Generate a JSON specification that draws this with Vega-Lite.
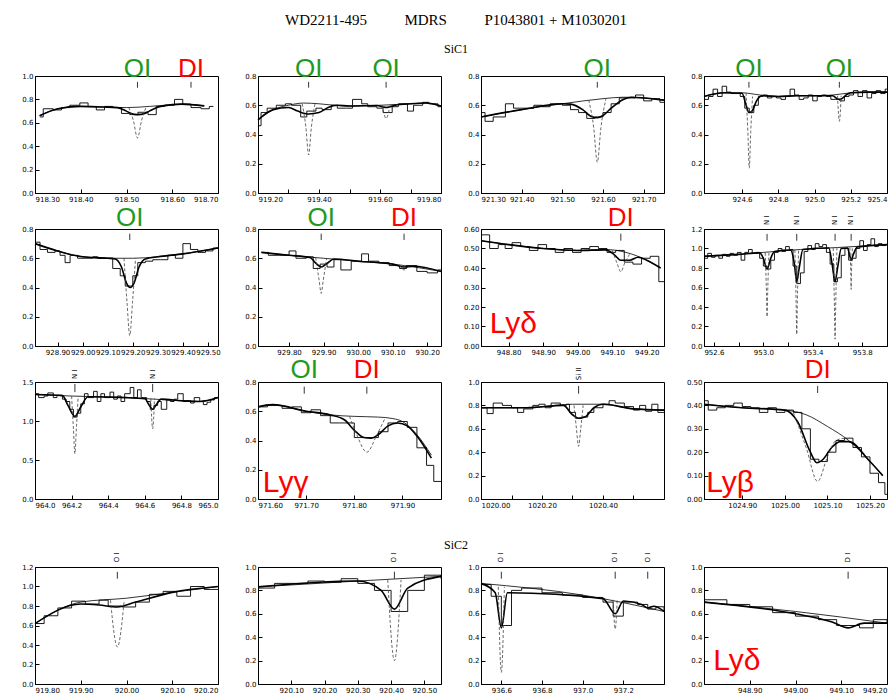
{
"$schema":"https://vega.github.io/schema/vega-lite/v6.json",
"padding":{"left":21,"top":13,"right":5,"bottom":0},
"title":{"text":"WD2211-495\u00a0\u00a0\u00a0\u00a0\u00a0\u00a0\u00a0\u00a0\u00a0\u00a0MDRS\u00a0\u00a0\u00a0\u00a0\u00a0\u00a0\u00a0\u00a0\u00a0\u00a0P1043801 + M1030201","font":"Liberation Serif","fontSize":15,"fontWeight":"normal","anchor":"middle","offset":15},
"config":{"view":{"stroke":"black","strokeWidth":1},"axis":{"grid":false,"domainColor":"black","tickColor":"black","labelColor":"black","labelFont":"DejaVu Sans","labelFontSize":7,"tickSize":-4,"labelPadding":6,"domain":true},"title":{"font":"Liberation Serif","fontWeight":"normal","fontSize":12}},
"datasets":{
"p1":[
{"s":"h","x":918.311,"y":0.65},{"s":"h","x":918.318,"y":0.72},{"s":"h","x":918.340,"y":0.71},{"s":"h","x":918.358,"y":0.73},{"s":"h","x":918.376,"y":0.75},{"s":"h","x":918.398,"y":0.77},{"s":"h","x":918.416,"y":0.74},{"s":"h","x":918.434,"y":0.71},{"s":"h","x":918.452,"y":0.74},{"s":"h","x":918.470,"y":0.73},{"s":"h","x":918.489,"y":0.68},{"s":"h","x":918.507,"y":0.67},{"s":"h","x":918.525,"y":0.69},{"s":"h","x":918.547,"y":0.67},{"s":"h","x":918.565,"y":0.74},{"s":"h","x":918.583,"y":0.75},{"s":"h","x":918.605,"y":0.80},{"s":"h","x":918.623,"y":0.76},{"s":"h","x":918.641,"y":0.73},{"s":"h","x":918.663,"y":0.72},{"s":"h","x":918.681,"y":0.74},{"s":"h","x":918.690,"y":0.74},
{"s":"c","x":918.31,"y":0.66},{"s":"c","x":918.35,"y":0.72},{"s":"c","x":918.40,"y":0.74},{"s":"c","x":918.45,"y":0.735},{"s":"c","x":918.50,"y":0.73},{"s":"c","x":918.55,"y":0.74},{"s":"c","x":918.60,"y":0.755},{"s":"c","x":918.62,"y":0.76},{"s":"c","x":918.67,"y":0.745},
{"s":"m","x":918.31,"y":0.66},{"s":"m","x":918.35,"y":0.72},{"s":"m","x":918.40,"y":0.74},{"s":"m","x":918.45,"y":0.735},{"s":"m","x":918.48,"y":0.73},{"s":"m","x":918.50,"y":0.70},{"s":"m","x":918.51,"y":0.68},{"s":"m","x":918.524,"y":0.67},{"s":"m","x":918.54,"y":0.68},{"s":"m","x":918.55,"y":0.70},{"s":"m","x":918.57,"y":0.735},{"s":"m","x":918.60,"y":0.755},{"s":"m","x":918.62,"y":0.76},{"s":"m","x":918.67,"y":0.745},
{"s":"i","g":1,"x":918.505,"y":0.73},{"s":"i","g":1,"x":918.515,"y":0.62},{"s":"i","g":1,"x":918.524,"y":0.47},{"s":"i","g":1,"x":918.533,"y":0.62},{"s":"i","g":1,"x":918.543,"y":0.735},
{"s":"t","x":918.524,"y":0.95,"y2":0.90},{"s":"t","x":918.641,"y":0.95,"y2":0.90},
{"s":"l","t":"OI","x":918.524,"y":1.06},{"s":"l","t":"DI","x":918.641,"y":1.06}
],
"p2":[
{"s":"h","x":919.200,"y":0.46},{"s":"h","x":919.210,"y":0.55},{"s":"h","x":919.230,"y":0.58},{"s":"h","x":919.260,"y":0.60},{"s":"h","x":919.290,"y":0.61},{"s":"h","x":919.310,"y":0.60},{"s":"h","x":919.340,"y":0.52},{"s":"h","x":919.360,"y":0.56},{"s":"h","x":919.390,"y":0.58},{"s":"h","x":919.410,"y":0.57},{"s":"h","x":919.440,"y":0.60},{"s":"h","x":919.460,"y":0.58},{"s":"h","x":919.490,"y":0.58},{"s":"h","x":919.510,"y":0.64},{"s":"h","x":919.540,"y":0.61},{"s":"h","x":919.560,"y":0.59},{"s":"h","x":919.590,"y":0.58},{"s":"h","x":919.610,"y":0.55},{"s":"h","x":919.640,"y":0.59},{"s":"h","x":919.660,"y":0.61},{"s":"h","x":919.690,"y":0.56},{"s":"h","x":919.710,"y":0.60},{"s":"h","x":919.740,"y":0.62},{"s":"h","x":919.760,"y":0.61},{"s":"h","x":919.790,"y":0.59},{"s":"h","x":919.800,"y":0.59},
{"s":"c","x":919.20,"y":0.50},{"s":"c","x":919.25,"y":0.57},{"s":"c","x":919.30,"y":0.60},{"s":"c","x":919.35,"y":0.615},{"s":"c","x":919.40,"y":0.61},{"s":"c","x":919.45,"y":0.60},{"s":"c","x":919.50,"y":0.595},{"s":"c","x":919.60,"y":0.60},{"s":"c","x":919.70,"y":0.61},{"s":"c","x":919.75,"y":0.615},{"s":"c","x":919.80,"y":0.595},
{"s":"m","x":919.20,"y":0.50},{"s":"m","x":919.25,"y":0.57},{"s":"m","x":919.30,"y":0.585},{"s":"m","x":919.33,"y":0.56},{"s":"m","x":919.366,"y":0.54},{"s":"m","x":919.40,"y":0.55},{"s":"m","x":919.43,"y":0.585},{"s":"m","x":919.46,"y":0.60},{"s":"m","x":919.50,"y":0.595},{"s":"m","x":919.59,"y":0.598},{"s":"m","x":919.61,"y":0.588},{"s":"m","x":919.62,"y":0.585},{"s":"m","x":919.63,"y":0.588},{"s":"m","x":919.65,"y":0.60},{"s":"m","x":919.70,"y":0.61},{"s":"m","x":919.75,"y":0.615},{"s":"m","x":919.80,"y":0.595},
{"s":"i","g":1,"x":919.345,"y":0.61},{"s":"i","g":1,"x":919.357,"y":0.45},{"s":"i","g":1,"x":919.366,"y":0.26},{"s":"i","g":1,"x":919.375,"y":0.45},{"s":"i","g":1,"x":919.387,"y":0.61},
{"s":"i","g":2,"x":919.607,"y":0.60},{"s":"i","g":2,"x":919.62,"y":0.51},{"s":"i","g":2,"x":919.633,"y":0.60},
{"s":"t","x":919.366,"y":0.76,"y2":0.72},{"s":"t","x":919.62,"y":0.76,"y2":0.72},
{"s":"l","t":"OI","x":919.366,"y":0.848},{"s":"l","t":"OI","x":919.62,"y":0.848}
],
"p3":[
{"s":"h","x":921.300,"y":0.55},{"s":"h","x":921.310,"y":0.49},{"s":"h","x":921.330,"y":0.52},{"s":"h","x":921.360,"y":0.61},{"s":"h","x":921.380,"y":0.58},{"s":"h","x":921.400,"y":0.58},{"s":"h","x":921.430,"y":0.60},{"s":"h","x":921.450,"y":0.59},{"s":"h","x":921.470,"y":0.61},{"s":"h","x":921.500,"y":0.60},{"s":"h","x":921.520,"y":0.57},{"s":"h","x":921.540,"y":0.55},{"s":"h","x":921.560,"y":0.51},{"s":"h","x":921.580,"y":0.52},{"s":"h","x":921.600,"y":0.55},{"s":"h","x":921.620,"y":0.61},{"s":"h","x":921.640,"y":0.65},{"s":"h","x":921.660,"y":0.65},{"s":"h","x":921.680,"y":0.67},{"s":"h","x":921.700,"y":0.63},{"s":"h","x":921.720,"y":0.645},{"s":"h","x":921.740,"y":0.62},{"s":"h","x":921.750,"y":0.62},
{"s":"c","x":921.30,"y":0.52},{"s":"c","x":921.40,"y":0.57},{"s":"c","x":921.50,"y":0.61},{"s":"c","x":921.60,"y":0.645},{"s":"c","x":921.65,"y":0.655},{"s":"c","x":921.70,"y":0.65},{"s":"c","x":921.75,"y":0.635},
{"s":"m","x":921.30,"y":0.52},{"s":"m","x":921.40,"y":0.57},{"s":"m","x":921.50,"y":0.61},{"s":"m","x":921.52,"y":0.608},{"s":"m","x":921.55,"y":0.57},{"s":"m","x":921.57,"y":0.525},{"s":"m","x":921.586,"y":0.515},{"s":"m","x":921.60,"y":0.53},{"s":"m","x":921.62,"y":0.58},{"s":"m","x":921.65,"y":0.64},{"s":"m","x":921.67,"y":0.655},{"s":"m","x":921.70,"y":0.65},{"s":"m","x":921.75,"y":0.635},
{"s":"i","g":1,"x":921.565,"y":0.635},{"s":"i","g":1,"x":921.577,"y":0.45},{"s":"i","g":1,"x":921.586,"y":0.21},{"s":"i","g":1,"x":921.595,"y":0.45},{"s":"i","g":1,"x":921.607,"y":0.642},
{"s":"t","x":921.586,"y":0.76,"y2":0.72},
{"s":"l","t":"OI","x":921.586,"y":0.848}
],
"p4":[
{"s":"h","x":924.39,"y":0.64},{"s":"h","x":924.415,"y":0.66},{"s":"h","x":924.44,"y":0.71},{"s":"h","x":924.465,"y":0.66},{"s":"h","x":924.49,"y":0.73},{"s":"h","x":924.515,"y":0.69},{"s":"h","x":924.54,"y":0.68},{"s":"h","x":924.565,"y":0.68},{"s":"h","x":924.59,"y":0.66},{"s":"h","x":924.615,"y":0.58},{"s":"h","x":924.64,"y":0.55},{"s":"h","x":924.665,"y":0.60},{"s":"h","x":924.69,"y":0.66},{"s":"h","x":924.715,"y":0.67},{"s":"h","x":924.74,"y":0.65},{"s":"h","x":924.765,"y":0.66},{"s":"h","x":924.79,"y":0.65},{"s":"h","x":924.815,"y":0.64},{"s":"h","x":924.84,"y":0.66},{"s":"h","x":924.865,"y":0.71},{"s":"h","x":924.89,"y":0.67},{"s":"h","x":924.915,"y":0.64},{"s":"h","x":924.94,"y":0.65},{"s":"h","x":924.965,"y":0.67},{"s":"h","x":924.99,"y":0.63},{"s":"h","x":925.015,"y":0.66},{"s":"h","x":925.04,"y":0.67},{"s":"h","x":925.065,"y":0.66},{"s":"h","x":925.09,"y":0.64},{"s":"h","x":925.115,"y":0.64},{"s":"h","x":925.14,"y":0.63},{"s":"h","x":925.165,"y":0.66},{"s":"h","x":925.19,"y":0.67},{"s":"h","x":925.215,"y":0.70},{"s":"h","x":925.24,"y":0.66},{"s":"h","x":925.265,"y":0.70},{"s":"h","x":925.29,"y":0.65},{"s":"h","x":925.315,"y":0.68},{"s":"h","x":925.34,"y":0.70},{"s":"h","x":925.365,"y":0.68},{"s":"h","x":925.39,"y":0.71},{"s":"h","x":925.40,"y":0.71},
{"s":"c","x":924.39,"y":0.66},{"s":"c","x":924.50,"y":0.685},{"s":"c","x":924.60,"y":0.685},{"s":"c","x":924.70,"y":0.67},{"s":"c","x":924.80,"y":0.66},{"s":"c","x":924.90,"y":0.665},{"s":"c","x":925.00,"y":0.665},{"s":"c","x":925.10,"y":0.67},{"s":"c","x":925.20,"y":0.685},{"s":"c","x":925.30,"y":0.69},{"s":"c","x":925.40,"y":0.69},
{"s":"m","x":924.39,"y":0.66},{"s":"m","x":924.50,"y":0.685},{"s":"m","x":924.60,"y":0.682},{"s":"m","x":924.62,"y":0.61},{"s":"m","x":924.638,"y":0.55},{"s":"m","x":924.655,"y":0.56},{"s":"m","x":924.68,"y":0.63},{"s":"m","x":924.71,"y":0.665},{"s":"m","x":924.80,"y":0.66},{"s":"m","x":924.90,"y":0.665},{"s":"m","x":925.00,"y":0.665},{"s":"m","x":925.10,"y":0.665},{"s":"m","x":925.125,"y":0.645},{"s":"m","x":925.137,"y":0.64},{"s":"m","x":925.15,"y":0.645},{"s":"m","x":925.18,"y":0.675},{"s":"m","x":925.20,"y":0.685},{"s":"m","x":925.30,"y":0.69},{"s":"m","x":925.40,"y":0.69},
{"s":"i","g":1,"x":924.622,"y":0.685},{"s":"i","g":1,"x":924.632,"y":0.42},{"s":"i","g":1,"x":924.64,"y":0.17},{"s":"i","g":1,"x":924.648,"y":0.42},{"s":"i","g":1,"x":924.658,"y":0.66},
{"s":"i","g":2,"x":925.127,"y":0.665},{"s":"i","g":2,"x":925.137,"y":0.49},{"s":"i","g":2,"x":925.147,"y":0.665},
{"s":"t","x":924.638,"y":0.76,"y2":0.72},{"s":"t","x":925.137,"y":0.76,"y2":0.72},
{"s":"l","t":"OI","x":924.638,"y":0.848},{"s":"l","t":"OI","x":925.137,"y":0.848}
],
"p5":[
{"s":"h","x":928.81,"y":0.71},{"s":"h","x":928.83,"y":0.66},{"s":"h","x":928.86,"y":0.64},{"s":"h","x":928.89,"y":0.65},{"s":"h","x":928.91,"y":0.62},{"s":"h","x":928.93,"y":0.57},{"s":"h","x":928.95,"y":0.62},{"s":"h","x":928.98,"y":0.60},{"s":"h","x":929.01,"y":0.60},{"s":"h","x":929.04,"y":0.61},{"s":"h","x":929.06,"y":0.60},{"s":"h","x":929.09,"y":0.60},{"s":"h","x":929.12,"y":0.53},{"s":"h","x":929.15,"y":0.48},{"s":"h","x":929.17,"y":0.41},{"s":"h","x":929.20,"y":0.48},{"s":"h","x":929.22,"y":0.57},{"s":"h","x":929.25,"y":0.58},{"s":"h","x":929.28,"y":0.59},{"s":"h","x":929.31,"y":0.59},{"s":"h","x":929.34,"y":0.62},{"s":"h","x":929.37,"y":0.60},{"s":"h","x":929.40,"y":0.70},{"s":"h","x":929.43,"y":0.66},{"s":"h","x":929.46,"y":0.64},{"s":"h","x":929.49,"y":0.65},{"s":"h","x":929.52,"y":0.67},{"s":"h","x":929.54,"y":0.67},
{"s":"c","x":928.81,"y":0.70},{"s":"c","x":928.90,"y":0.65},{"s":"c","x":929.00,"y":0.61},{"s":"c","x":929.10,"y":0.60},{"s":"c","x":929.20,"y":0.60},{"s":"c","x":929.30,"y":0.61},{"s":"c","x":929.40,"y":0.63},{"s":"c","x":929.54,"y":0.67},
{"s":"m","x":928.81,"y":0.70},{"s":"m","x":928.90,"y":0.65},{"s":"m","x":929.00,"y":0.61},{"s":"m","x":929.10,"y":0.60},{"s":"m","x":929.13,"y":0.595},{"s":"m","x":929.155,"y":0.54},{"s":"m","x":929.175,"y":0.43},{"s":"m","x":929.19,"y":0.40},{"s":"m","x":929.205,"y":0.43},{"s":"m","x":929.225,"y":0.54},{"s":"m","x":929.25,"y":0.595},{"s":"m","x":929.30,"y":0.61},{"s":"m","x":929.40,"y":0.63},{"s":"m","x":929.54,"y":0.67},
{"s":"i","g":1,"x":929.165,"y":0.60},{"s":"i","g":1,"x":929.177,"y":0.30},{"s":"i","g":1,"x":929.188,"y":0.07},{"s":"i","g":1,"x":929.199,"y":0.30},{"s":"i","g":1,"x":929.211,"y":0.60},
{"s":"t","x":929.188,"y":0.768,"y2":0.725},
{"s":"l","t":"OI","x":929.188,"y":0.875}
],
"p6":[
{"s":"h","x":929.72,"y":0.64},{"s":"h","x":929.74,"y":0.62},{"s":"h","x":929.77,"y":0.62},{"s":"h","x":929.80,"y":0.65},{"s":"h","x":929.82,"y":0.60},{"s":"h","x":929.85,"y":0.61},{"s":"h","x":929.87,"y":0.53},{"s":"h","x":929.89,"y":0.56},{"s":"h","x":929.91,"y":0.54},{"s":"h","x":929.93,"y":0.59},{"s":"h","x":929.95,"y":0.52},{"s":"h","x":929.98,"y":0.58},{"s":"h","x":930.01,"y":0.63},{"s":"h","x":930.03,"y":0.58},{"s":"h","x":930.06,"y":0.57},{"s":"h","x":930.09,"y":0.55},{"s":"h","x":930.12,"y":0.53},{"s":"h","x":930.14,"y":0.55},{"s":"h","x":930.17,"y":0.51},{"s":"h","x":930.20,"y":0.50},{"s":"h","x":930.23,"y":0.52},{"s":"h","x":930.24,"y":0.52},
{"s":"c","x":929.72,"y":0.64},{"s":"c","x":929.80,"y":0.62},{"s":"c","x":929.90,"y":0.60},{"s":"c","x":930.00,"y":0.58},{"s":"c","x":930.10,"y":0.56},{"s":"c","x":930.24,"y":0.51},
{"s":"m","x":929.72,"y":0.64},{"s":"m","x":929.80,"y":0.62},{"s":"m","x":929.86,"y":0.605},{"s":"m","x":929.878,"y":0.565},{"s":"m","x":929.893,"y":0.54},{"s":"m","x":929.91,"y":0.565},{"s":"m","x":929.93,"y":0.595},{"s":"m","x":930.00,"y":0.58},{"s":"m","x":930.10,"y":0.56},{"s":"m","x":930.133,"y":0.54},{"s":"m","x":930.16,"y":0.545},{"s":"m","x":930.24,"y":0.51},
{"s":"i","g":1,"x":929.877,"y":0.605},{"s":"i","g":1,"x":929.887,"y":0.45},{"s":"i","g":1,"x":929.893,"y":0.36},{"s":"i","g":1,"x":929.899,"y":0.45},{"s":"i","g":1,"x":929.909,"y":0.60},
{"s":"i","g":2,"x":930.12,"y":0.555},{"s":"i","g":2,"x":930.133,"y":0.52},{"s":"i","g":2,"x":930.146,"y":0.545},
{"s":"t","x":929.893,"y":0.768,"y2":0.725},{"s":"t","x":930.133,"y":0.768,"y2":0.725},
{"s":"l","t":"OI","x":929.893,"y":0.875},{"s":"l","t":"DI","x":930.133,"y":0.875}
],
"p7":[
{"s":"h","x":948.72,"y":0.57},{"s":"h","x":948.745,"y":0.50},{"s":"h","x":948.77,"y":0.52},{"s":"h","x":948.79,"y":0.50},{"s":"h","x":948.81,"y":0.53},{"s":"h","x":948.835,"y":0.51},{"s":"h","x":948.86,"y":0.49},{"s":"h","x":948.885,"y":0.52},{"s":"h","x":948.91,"y":0.50},{"s":"h","x":948.935,"y":0.48},{"s":"h","x":948.96,"y":0.50},{"s":"h","x":948.985,"y":0.48},{"s":"h","x":949.01,"y":0.50},{"s":"h","x":949.035,"y":0.51},{"s":"h","x":949.06,"y":0.50},{"s":"h","x":949.085,"y":0.48},{"s":"h","x":949.11,"y":0.49},{"s":"h","x":949.135,"y":0.43},{"s":"h","x":949.16,"y":0.42},{"s":"h","x":949.185,"y":0.45},{"s":"h","x":949.21,"y":0.46},{"s":"h","x":949.235,"y":0.33},{"s":"h","x":949.25,"y":0.33},
{"s":"c","x":948.72,"y":0.54},{"s":"c","x":948.80,"y":0.52},{"s":"c","x":948.90,"y":0.50},{"s":"c","x":949.00,"y":0.49},{"s":"c","x":949.08,"y":0.495},{"s":"c","x":949.14,"y":0.48},{"s":"c","x":949.20,"y":0.44},{"s":"c","x":949.24,"y":0.40},
{"s":"m","x":948.72,"y":0.54},{"s":"m","x":948.80,"y":0.52},{"s":"m","x":948.90,"y":0.50},{"s":"m","x":949.00,"y":0.49},{"s":"m","x":949.08,"y":0.493},{"s":"m","x":949.105,"y":0.47},{"s":"m","x":949.125,"y":0.44},{"s":"m","x":949.15,"y":0.44},{"s":"m","x":949.175,"y":0.455},{"s":"m","x":949.20,"y":0.44},{"s":"m","x":949.24,"y":0.40},
{"s":"i","g":1,"x":949.10,"y":0.49},{"s":"i","g":1,"x":949.115,"y":0.42},{"s":"i","g":1,"x":949.125,"y":0.38},{"s":"i","g":1,"x":949.135,"y":0.42},{"s":"i","g":1,"x":949.15,"y":0.47},
{"s":"t","x":949.125,"y":0.576,"y2":0.54},
{"s":"l","t":"DI","x":949.125,"y":0.656},
{"s":"ly","t":"Lyδ","x":948.745,"y":0.065}
],
"p8":[
{"s":"h","x":952.52,"y":0.90},{"s":"h","x":952.55,"y":0.95},{"s":"h","x":952.58,"y":0.91},{"s":"h","x":952.61,"y":0.93},{"s":"h","x":952.64,"y":0.90},{"s":"h","x":952.67,"y":0.94},{"s":"h","x":952.70,"y":0.92},{"s":"h","x":952.73,"y":0.95},{"s":"h","x":952.76,"y":0.93},{"s":"h","x":952.79,"y":0.96},{"s":"h","x":952.82,"y":0.88},{"s":"h","x":952.85,"y":0.96},{"s":"h","x":952.88,"y":0.99},{"s":"h","x":952.91,"y":0.95},{"s":"h","x":952.94,"y":0.96},{"s":"h","x":952.97,"y":0.90},{"s":"h","x":953.00,"y":0.82},{"s":"h","x":953.03,"y":0.79},{"s":"h","x":953.06,"y":0.88},{"s":"h","x":953.09,"y":0.96},{"s":"h","x":953.12,"y":1.00},{"s":"h","x":953.15,"y":0.97},{"s":"h","x":953.18,"y":1.02},{"s":"h","x":953.21,"y":0.99},{"s":"h","x":953.24,"y":0.82},{"s":"h","x":953.27,"y":0.64},{"s":"h","x":953.30,"y":0.75},{"s":"h","x":953.33,"y":0.97},{"s":"h","x":953.36,"y":1.03},{"s":"h","x":953.39,"y":0.99},{"s":"h","x":953.42,"y":1.05},{"s":"h","x":953.45,"y":1.02},{"s":"h","x":953.48,"y":1.04},{"s":"h","x":953.51,"y":0.96},{"s":"h","x":953.54,"y":0.84},{"s":"h","x":953.57,"y":0.66},{"s":"h","x":953.60,"y":0.70},{"s":"h","x":953.63,"y":0.93},{"s":"h","x":953.66,"y":1.00},{"s":"h","x":953.69,"y":0.88},{"s":"h","x":953.72,"y":0.90},{"s":"h","x":953.75,"y":1.00},{"s":"h","x":953.78,"y":1.08},{"s":"h","x":953.81,"y":0.98},{"s":"h","x":953.84,"y":1.04},{"s":"h","x":953.87,"y":1.10},{"s":"h","x":953.90,"y":1.02},{"s":"h","x":953.93,"y":1.05},{"s":"h","x":953.96,"y":1.03},{"s":"h","x":953.99,"y":1.04},{"s":"h","x":954.0,"y":1.04},
{"s":"c","x":952.52,"y":0.92},{"s":"c","x":952.8,"y":0.94},{"s":"c","x":953.0,"y":0.96},{"s":"c","x":953.3,"y":0.99},{"s":"c","x":953.6,"y":1.01},{"s":"c","x":954.0,"y":1.04},
{"s":"m","x":952.52,"y":0.92},{"s":"m","x":952.8,"y":0.94},{"s":"m","x":952.97,"y":0.955},{"s":"m","x":953.00,"y":0.90},{"s":"m","x":953.03,"y":0.79},{"s":"m","x":953.06,"y":0.90},{"s":"m","x":953.09,"y":0.97},{"s":"m","x":953.22,"y":0.985},{"s":"m","x":953.25,"y":0.85},{"s":"m","x":953.27,"y":0.66},{"s":"m","x":953.29,"y":0.80},{"s":"m","x":953.32,"y":0.99},{"s":"m","x":953.53,"y":1.005},{"s":"m","x":953.555,"y":0.85},{"s":"m","x":953.58,"y":0.66},{"s":"m","x":953.60,"y":0.80},{"s":"m","x":953.63,"y":1.0},{"s":"m","x":953.68,"y":1.005},{"s":"m","x":953.70,"y":0.92},{"s":"m","x":953.71,"y":0.88},{"s":"m","x":953.725,"y":0.93},{"s":"m","x":953.76,"y":1.015},{"s":"m","x":954.0,"y":1.04},
{"s":"i","g":1,"x":953.015,"y":0.955},{"s":"i","g":1,"x":953.025,"y":0.55},{"s":"i","g":1,"x":953.03,"y":0.30},{"s":"i","g":1,"x":953.035,"y":0.55},{"s":"i","g":1,"x":953.045,"y":0.955},
{"s":"i","g":2,"x":953.255,"y":0.985},{"s":"i","g":2,"x":953.265,"y":0.45},{"s":"i","g":2,"x":953.27,"y":0.12},{"s":"i","g":2,"x":953.275,"y":0.45},{"s":"i","g":2,"x":953.285,"y":0.99},
{"s":"i","g":3,"x":953.565,"y":1.005},{"s":"i","g":3,"x":953.575,"y":0.40},{"s":"i","g":3,"x":953.58,"y":0.07},{"s":"i","g":3,"x":953.585,"y":0.40},{"s":"i","g":3,"x":953.595,"y":1.005},
{"s":"i","g":4,"x":953.70,"y":1.01},{"s":"i","g":4,"x":953.707,"y":0.75},{"s":"i","g":4,"x":953.71,"y":0.58},{"s":"i","g":4,"x":953.713,"y":0.75},{"s":"i","g":4,"x":953.72,"y":1.01},
{"s":"t","x":953.03,"y":1.15,"y2":1.08},{"s":"t","x":953.27,"y":1.15,"y2":1.08},{"s":"t","x":953.58,"y":1.15,"y2":1.08},{"s":"t","x":953.71,"y":1.15,"y2":1.08},
{"s":"r","t":"N I","x":953.03,"y":1.29},{"s":"r","t":"N I","x":953.27,"y":1.29},{"s":"r","t":"N I","x":953.58,"y":1.29},{"s":"r","t":"N I","x":953.71,"y":1.29}
],
"p9":[
{"s":"h","x":964.00,"y":1.35},{"s":"h","x":964.02,"y":1.30},{"s":"h","x":964.05,"y":1.32},{"s":"h","x":964.07,"y":1.36},{"s":"h","x":964.10,"y":1.30},{"s":"h","x":964.12,"y":1.33},{"s":"h","x":964.15,"y":1.28},{"s":"h","x":964.17,"y":1.25},{"s":"h","x":964.19,"y":1.15},{"s":"h","x":964.21,"y":1.05},{"s":"h","x":964.23,"y":1.10},{"s":"h","x":964.25,"y":1.22},{"s":"h","x":964.27,"y":1.35},{"s":"h","x":964.29,"y":1.30},{"s":"h","x":964.32,"y":1.38},{"s":"h","x":964.34,"y":1.25},{"s":"h","x":964.36,"y":1.35},{"s":"h","x":964.38,"y":1.30},{"s":"h","x":964.41,"y":1.37},{"s":"h","x":964.43,"y":1.28},{"s":"h","x":964.45,"y":1.32},{"s":"h","x":964.47,"y":1.25},{"s":"h","x":964.49,"y":1.35},{"s":"h","x":964.52,"y":1.43},{"s":"h","x":964.54,"y":1.30},{"s":"h","x":964.56,"y":1.40},{"s":"h","x":964.58,"y":1.30},{"s":"h","x":964.61,"y":1.25},{"s":"h","x":964.63,"y":1.15},{"s":"h","x":964.65,"y":1.20},{"s":"h","x":964.67,"y":1.25},{"s":"h","x":964.69,"y":1.15},{"s":"h","x":964.72,"y":1.27},{"s":"h","x":964.74,"y":1.25},{"s":"h","x":964.76,"y":1.28},{"s":"h","x":964.78,"y":1.35},{"s":"h","x":964.81,"y":1.25},{"s":"h","x":964.83,"y":1.26},{"s":"h","x":964.85,"y":1.23},{"s":"h","x":964.87,"y":1.30},{"s":"h","x":964.90,"y":1.25},{"s":"h","x":964.92,"y":1.21},{"s":"h","x":964.94,"y":1.24},{"s":"h","x":964.96,"y":1.27},{"s":"h","x":964.98,"y":1.30},{"s":"h","x":965.00,"y":1.30},
{"s":"c","x":964.0,"y":1.34},{"s":"c","x":964.2,"y":1.32},{"s":"c","x":964.5,"y":1.30},{"s":"c","x":964.8,"y":1.26},{"s":"c","x":964.9,"y":1.25},{"s":"c","x":965.0,"y":1.30},
{"s":"m","x":964.0,"y":1.34},{"s":"m","x":964.15,"y":1.325},{"s":"m","x":964.18,"y":1.20},{"s":"m","x":964.218,"y":1.06},{"s":"m","x":964.25,"y":1.18},{"s":"m","x":964.29,"y":1.31},{"s":"m","x":964.5,"y":1.30},{"s":"m","x":964.60,"y":1.285},{"s":"m","x":964.625,"y":1.20},{"s":"m","x":964.643,"y":1.15},{"s":"m","x":964.66,"y":1.20},{"s":"m","x":964.69,"y":1.28},{"s":"m","x":964.8,"y":1.26},{"s":"m","x":964.9,"y":1.25},{"s":"m","x":965.0,"y":1.30},
{"s":"i","g":1,"x":964.20,"y":1.32},{"s":"i","g":1,"x":964.21,"y":0.90},{"s":"i","g":1,"x":964.218,"y":0.58},{"s":"i","g":1,"x":964.226,"y":0.90},{"s":"i","g":1,"x":964.236,"y":1.32},
{"s":"i","g":2,"x":964.633,"y":1.29},{"s":"i","g":2,"x":964.643,"y":0.90},{"s":"i","g":2,"x":964.653,"y":1.29},
{"s":"t","x":964.218,"y":1.475,"y2":1.37},{"s":"t","x":964.643,"y":1.475,"y2":1.37},
{"s":"r","t":"N I","x":964.218,"y":1.60},{"s":"r","t":"N I","x":964.643,"y":1.60}
],
"p10":[
{"s":"h","x":971.60,"y":0.63},{"s":"h","x":971.62,"y":0.64},{"s":"h","x":971.65,"y":0.62},{"s":"h","x":971.67,"y":0.63},{"s":"h","x":971.69,"y":0.59},{"s":"h","x":971.71,"y":0.61},{"s":"h","x":971.73,"y":0.57},{"s":"h","x":971.75,"y":0.52},{"s":"h","x":971.77,"y":0.52},{"s":"h","x":971.80,"y":0.42},{"s":"h","x":971.82,"y":0.42},{"s":"h","x":971.85,"y":0.46},{"s":"h","x":971.87,"y":0.52},{"s":"h","x":971.89,"y":0.53},{"s":"h","x":971.91,"y":0.49},{"s":"h","x":971.93,"y":0.35},{"s":"h","x":971.95,"y":0.23},{"s":"h","x":971.965,"y":0.12},{"s":"h","x":971.98,"y":0.12},
{"s":"c","x":971.60,"y":0.63},{"s":"c","x":971.63,"y":0.645},{"s":"c","x":971.70,"y":0.60},{"s":"c","x":971.75,"y":0.575},{"s":"c","x":971.80,"y":0.565},{"s":"c","x":971.85,"y":0.56},{"s":"c","x":971.88,"y":0.55},{"s":"c","x":971.90,"y":0.53},{"s":"c","x":971.93,"y":0.44},{"s":"c","x":971.96,"y":0.30},
{"s":"m","x":971.60,"y":0.63},{"s":"m","x":971.63,"y":0.645},{"s":"m","x":971.70,"y":0.60},{"s":"m","x":971.75,"y":0.575},{"s":"m","x":971.78,"y":0.54},{"s":"m","x":971.80,"y":0.47},{"s":"m","x":971.82,"y":0.42},{"s":"m","x":971.835,"y":0.415},{"s":"m","x":971.85,"y":0.44},{"s":"m","x":971.87,"y":0.50},{"s":"m","x":971.89,"y":0.52},{"s":"m","x":971.91,"y":0.50},{"s":"m","x":971.93,"y":0.43},{"s":"m","x":971.96,"y":0.28},
{"s":"i","g":1,"x":971.79,"y":0.565},{"s":"i","g":1,"x":971.805,"y":0.44},{"s":"i","g":1,"x":971.826,"y":0.32},{"s":"i","g":1,"x":971.847,"y":0.44},{"s":"i","g":1,"x":971.865,"y":0.56},
{"s":"t","x":971.696,"y":0.768,"y2":0.72},{"s":"t","x":971.826,"y":0.768,"y2":0.72},
{"s":"l","t":"OI","x":971.696,"y":0.88},{"s":"l","t":"DI","x":971.826,"y":0.88},
{"s":"ly","t":"Lyγ","x":971.61,"y":0.05}
],
"p11":[
{"s":"h","x":1020.00,"y":0.78},{"s":"h","x":1020.02,"y":0.73},{"s":"h","x":1020.04,"y":0.82},{"s":"h","x":1020.07,"y":0.80},{"s":"h","x":1020.10,"y":0.78},{"s":"h","x":1020.12,"y":0.74},{"s":"h","x":1020.14,"y":0.77},{"s":"h","x":1020.17,"y":0.80},{"s":"h","x":1020.19,"y":0.81},{"s":"h","x":1020.21,"y":0.78},{"s":"h","x":1020.23,"y":0.82},{"s":"h","x":1020.26,"y":0.80},{"s":"h","x":1020.28,"y":0.81},{"s":"h","x":1020.29,"y":0.74},{"s":"h","x":1020.31,"y":0.69},{"s":"h","x":1020.33,"y":0.70},{"s":"h","x":1020.35,"y":0.74},{"s":"h","x":1020.37,"y":0.78},{"s":"h","x":1020.40,"y":0.81},{"s":"h","x":1020.42,"y":0.84},{"s":"h","x":1020.44,"y":0.82},{"s":"h","x":1020.47,"y":0.79},{"s":"h","x":1020.50,"y":0.76},{"s":"h","x":1020.52,"y":0.80},{"s":"h","x":1020.54,"y":0.75},{"s":"h","x":1020.56,"y":0.81},{"s":"h","x":1020.58,"y":0.74},{"s":"h","x":1020.60,"y":0.74},
{"s":"c","x":1020.00,"y":0.78},{"s":"c","x":1020.15,"y":0.78},{"s":"c","x":1020.30,"y":0.81},{"s":"c","x":1020.40,"y":0.81},{"s":"c","x":1020.50,"y":0.77},{"s":"c","x":1020.60,"y":0.76},
{"s":"m","x":1020.00,"y":0.78},{"s":"m","x":1020.15,"y":0.78},{"s":"m","x":1020.27,"y":0.80},{"s":"m","x":1020.30,"y":0.72},{"s":"m","x":1020.32,"y":0.69},{"s":"m","x":1020.34,"y":0.70},{"s":"m","x":1020.37,"y":0.78},{"s":"m","x":1020.40,"y":0.81},{"s":"m","x":1020.50,"y":0.77},{"s":"m","x":1020.60,"y":0.76},
{"s":"i","g":1,"x":1020.305,"y":0.80},{"s":"i","g":1,"x":1020.313,"y":0.60},{"s":"i","g":1,"x":1020.32,"y":0.45},{"s":"i","g":1,"x":1020.327,"y":0.60},{"s":"i","g":1,"x":1020.335,"y":0.80},
{"s":"t","x":1020.32,"y":0.966,"y2":0.90},
{"s":"r","t":"Si II","x":1020.32,"y":1.07}
],
"p12":[
{"s":"h","x":1024.81,"y":0.42},{"s":"h","x":1024.82,"y":0.38},{"s":"h","x":1024.84,"y":0.39},{"s":"h","x":1024.86,"y":0.40},{"s":"h","x":1024.88,"y":0.41},{"s":"h","x":1024.90,"y":0.395},{"s":"h","x":1024.92,"y":0.39},{"s":"h","x":1024.94,"y":0.37},{"s":"h","x":1024.96,"y":0.39},{"s":"h","x":1024.98,"y":0.37},{"s":"h","x":1025.00,"y":0.38},{"s":"h","x":1025.02,"y":0.37},{"s":"h","x":1025.04,"y":0.30},{"s":"h","x":1025.06,"y":0.17},{"s":"h","x":1025.08,"y":0.16},{"s":"h","x":1025.10,"y":0.20},{"s":"h","x":1025.12,"y":0.25},{"s":"h","x":1025.14,"y":0.26},{"s":"h","x":1025.16,"y":0.22},{"s":"h","x":1025.18,"y":0.18},{"s":"h","x":1025.20,"y":0.11},{"s":"h","x":1025.22,"y":0.07},{"s":"h","x":1025.235,"y":0.02},{"s":"h","x":1025.24,"y":0.02},
{"s":"c","x":1024.81,"y":0.405},{"s":"c","x":1024.90,"y":0.39},{"s":"c","x":1025.00,"y":0.38},{"s":"c","x":1025.05,"y":0.36},{"s":"c","x":1025.10,"y":0.31},{"s":"c","x":1025.15,"y":0.25},{"s":"c","x":1025.20,"y":0.16},{"s":"c","x":1025.23,"y":0.10},
{"s":"m","x":1024.81,"y":0.405},{"s":"m","x":1024.90,"y":0.39},{"s":"m","x":1025.00,"y":0.38},{"s":"m","x":1025.03,"y":0.33},{"s":"m","x":1025.06,"y":0.20},{"s":"m","x":1025.075,"y":0.155},{"s":"m","x":1025.09,"y":0.17},{"s":"m","x":1025.11,"y":0.22},{"s":"m","x":1025.13,"y":0.245},{"s":"m","x":1025.15,"y":0.245},{"s":"m","x":1025.20,"y":0.16},{"s":"m","x":1025.23,"y":0.10},
{"s":"i","g":1,"x":1025.02,"y":0.37},{"s":"i","g":1,"x":1025.05,"y":0.22},{"s":"i","g":1,"x":1025.077,"y":0.075},{"s":"i","g":1,"x":1025.10,"y":0.18},{"s":"i","g":1,"x":1025.12,"y":0.25},{"s":"i","g":1,"x":1025.14,"y":0.26},
{"s":"t","x":1025.077,"y":0.483,"y2":0.453},
{"s":"l","t":"DI","x":1025.077,"y":0.55},
{"s":"ly","t":"Lyβ","x":1024.815,"y":0.03}
],
"p13":[
{"s":"h","x":919.80,"y":0.62},{"s":"h","x":919.82,"y":0.70},{"s":"h","x":919.85,"y":0.78},{"s":"h","x":919.88,"y":0.85},{"s":"h","x":919.91,"y":0.82},{"s":"h","x":919.94,"y":0.86},{"s":"h","x":919.96,"y":0.80},{"s":"h","x":919.99,"y":0.79},{"s":"h","x":920.02,"y":0.84},{"s":"h","x":920.05,"y":0.92},{"s":"h","x":920.08,"y":0.95},{"s":"h","x":920.11,"y":0.90},{"s":"h","x":920.14,"y":1.00},{"s":"h","x":920.17,"y":0.97},{"s":"h","x":920.20,"y":0.97},
{"s":"c","x":919.80,"y":0.62},{"s":"c","x":919.90,"y":0.84},{"s":"c","x":920.00,"y":0.88},{"s":"c","x":920.10,"y":0.94},{"s":"c","x":920.20,"y":1.00},
{"s":"m","x":919.80,"y":0.62},{"s":"m","x":919.90,"y":0.82},{"s":"m","x":919.94,"y":0.81},{"s":"m","x":919.98,"y":0.79},{"s":"m","x":920.02,"y":0.84},{"s":"m","x":920.10,"y":0.94},{"s":"m","x":920.20,"y":1.00},
{"s":"i","g":1,"x":919.965,"y":0.86},{"s":"i","g":1,"x":919.98,"y":0.38},{"s":"i","g":1,"x":919.995,"y":0.86},
{"s":"t","x":919.98,"y":1.15,"y2":1.08},
{"s":"r","t":"O I","x":919.98,"y":1.30}
],
"p14":[
{"s":"h","x":920.00,"y":0.82},{"s":"h","x":920.05,"y":0.86},{"s":"h","x":920.10,"y":0.86},{"s":"h","x":920.15,"y":0.88},{"s":"h","x":920.20,"y":0.87},{"s":"h","x":920.25,"y":0.90},{"s":"h","x":920.30,"y":0.86},{"s":"h","x":920.35,"y":0.80},{"s":"h","x":920.40,"y":0.62},{"s":"h","x":920.45,"y":0.80},{"s":"h","x":920.50,"y":0.93},{"s":"h","x":920.55,"y":0.90},
{"s":"c","x":920.00,"y":0.83},{"s":"c","x":920.30,"y":0.88},{"s":"c","x":920.55,"y":0.92},
{"s":"m","x":920.00,"y":0.83},{"s":"m","x":920.30,"y":0.88},{"s":"m","x":920.37,"y":0.80},{"s":"m","x":920.41,"y":0.64},{"s":"m","x":920.45,"y":0.82},{"s":"m","x":920.55,"y":0.92},
{"s":"i","g":1,"x":920.39,"y":0.89},{"s":"i","g":1,"x":920.41,"y":0.20},{"s":"i","g":1,"x":920.43,"y":0.89},
{"s":"t","x":920.41,"y":0.96,"y2":0.90},
{"s":"r","t":"O I","x":920.41,"y":1.08}
],
"p15":[
{"s":"h","x":936.50,"y":0.85},{"s":"h","x":936.55,"y":0.75},{"s":"h","x":936.60,"y":0.50},{"s":"h","x":936.65,"y":0.80},{"s":"h","x":936.70,"y":0.82},{"s":"h","x":936.80,"y":0.78},{"s":"h","x":936.90,"y":0.76},{"s":"h","x":937.00,"y":0.74},{"s":"h","x":937.10,"y":0.70},{"s":"h","x":937.15,"y":0.58},{"s":"h","x":937.20,"y":0.70},{"s":"h","x":937.27,"y":0.68},{"s":"h","x":937.32,"y":0.64},{"s":"h","x":937.36,"y":0.66},{"s":"h","x":937.40,"y":0.62},
{"s":"c","x":936.50,"y":0.86},{"s":"c","x":937.00,"y":0.76},{"s":"c","x":937.40,"y":0.62},
{"s":"m","x":936.50,"y":0.86},{"s":"m","x":936.57,"y":0.78},{"s":"m","x":936.60,"y":0.48},{"s":"m","x":936.63,"y":0.78},{"s":"m","x":937.10,"y":0.73},{"s":"m","x":937.16,"y":0.60},{"s":"m","x":937.20,"y":0.71},{"s":"m","x":937.29,"y":0.68},{"s":"m","x":937.32,"y":0.65},{"s":"m","x":937.35,"y":0.665},{"s":"m","x":937.40,"y":0.62},
{"s":"i","g":1,"x":936.585,"y":0.83},{"s":"i","g":1,"x":936.60,"y":0.10},{"s":"i","g":1,"x":936.615,"y":0.83},
{"s":"i","g":2,"x":937.15,"y":0.72},{"s":"i","g":2,"x":937.16,"y":0.47},{"s":"i","g":2,"x":937.17,"y":0.72},
{"s":"t","x":936.60,"y":0.96,"y2":0.90},{"s":"t","x":937.16,"y":0.96,"y2":0.90},{"s":"t","x":937.32,"y":0.96,"y2":0.90},
{"s":"r","t":"O I","x":936.60,"y":1.08},{"s":"r","t":"O I","x":937.16,"y":1.08},{"s":"r","t":"O I","x":937.32,"y":1.08}
],
"p16":[
{"s":"h","x":948.80,"y":0.72},{"s":"h","x":948.85,"y":0.68},{"s":"h","x":948.90,"y":0.66},{"s":"h","x":948.95,"y":0.61},{"s":"h","x":949.00,"y":0.58},{"s":"h","x":949.05,"y":0.55},{"s":"h","x":949.09,"y":0.50},{"s":"h","x":949.14,"y":0.48},{"s":"h","x":949.17,"y":0.55},{"s":"h","x":949.20,"y":0.52},
{"s":"c","x":948.80,"y":0.70},{"s":"c","x":949.00,"y":0.62},{"s":"c","x":949.20,"y":0.52},
{"s":"m","x":948.80,"y":0.70},{"s":"m","x":949.00,"y":0.60},{"s":"m","x":949.08,"y":0.53},{"s":"m","x":949.115,"y":0.48},{"s":"m","x":949.15,"y":0.52},{"s":"m","x":949.20,"y":0.52},
{"s":"t","x":949.115,"y":0.96,"y2":0.90},
{"s":"r","t":"D I","x":949.115,"y":1.08},
{"s":"ly","t":"Lyδ","x":948.82,"y":0.12}
]
},
"vconcat":[
{"title":{"text":"SiC1","anchor":"middle","offset":-1},"columns":4,"spacing":{"row":36,"column":40},"bounds":"flush","concat":[
  {"width":183,"height":117,"data":{"name":"p1"},"encoding":{"x":{"field":"x","type":"quantitative","title":null,"scale":{"domain":[918.3,918.7],"nice":false,"zero":false},"axis":{"values":[918.3,918.4,918.5,918.6,918.7],"format":".2f"}},"y":{"field":"y","type":"quantitative","title":null,"scale":{"domain":[0,1],"nice":false},"axis":{"values":[0,0.2,0.4,0.6,0.8,1.0],"format":".1f"}}},
   "layer":[{"transform":[{"filter":"datum.s=='h'"}],"mark":{"type":"line","interpolate":"step-after","color":"#000","strokeWidth":0.9}},{"transform":[{"filter":"datum.s=='c'"}],"mark":{"type":"line","interpolate":"monotone","color":"#000","strokeWidth":0.8}},{"transform":[{"filter":"datum.s=='m'"}],"mark":{"type":"line","interpolate":"monotone","color":"#000","strokeWidth":1.6}},{"transform":[{"filter":"datum.s=='i'"}],"mark":{"type":"line","interpolate":"monotone","color":"#444","strokeWidth":0.8,"strokeDash":[3,2]},"encoding":{"detail":{"field":"g"}}},{"transform":[{"filter":"datum.s=='t'"}],"mark":{"type":"rule","color":"#000","strokeWidth":0.8},"encoding":{"y2":{"field":"y2"}}},{"transform":[{"filter":"datum.s=='l' && datum.t=='OI'"}],"mark":{"type":"text","color":"#1e9a1e","fontSize":26,"font":"Liberation Sans","baseline":"middle"},"encoding":{"text":{"field":"t"}}},{"transform":[{"filter":"datum.s=='l' && datum.t=='DI'"}],"mark":{"type":"text","color":"#ff0000","fontSize":26,"font":"Liberation Sans","baseline":"middle"},"encoding":{"text":{"field":"t"}}}]},
  {"width":183,"height":117,"data":{"name":"p2"},"encoding":{"x":{"field":"x","type":"quantitative","title":null,"scale":{"domain":[919.2,919.8],"nice":false,"zero":false},"axis":{"values":[919.2,919.3,919.4,919.5,919.6,919.7,919.8],"format":".2f"}},"y":{"field":"y","type":"quantitative","title":null,"scale":{"domain":[0,0.8],"nice":false},"axis":{"values":[0,0.2,0.4,0.6,0.8],"format":".1f"}}},
   "layer":[{"transform":[{"filter":"datum.s=='h'"}],"mark":{"type":"line","interpolate":"step-after","color":"#000","strokeWidth":0.9}},{"transform":[{"filter":"datum.s=='c'"}],"mark":{"type":"line","interpolate":"monotone","color":"#000","strokeWidth":0.8}},{"transform":[{"filter":"datum.s=='m'"}],"mark":{"type":"line","interpolate":"monotone","color":"#000","strokeWidth":1.6}},{"transform":[{"filter":"datum.s=='i'"}],"mark":{"type":"line","interpolate":"monotone","color":"#444","strokeWidth":0.8,"strokeDash":[3,2]},"encoding":{"detail":{"field":"g"}}},{"transform":[{"filter":"datum.s=='t'"}],"mark":{"type":"rule","color":"#000","strokeWidth":0.8},"encoding":{"y2":{"field":"y2"}}},{"transform":[{"filter":"datum.s=='l' && datum.t=='OI'"}],"mark":{"type":"text","color":"#1e9a1e","fontSize":26,"font":"Liberation Sans","baseline":"middle"},"encoding":{"text":{"field":"t"}}}]},
  {"width":183,"height":117,"data":{"name":"p3"},"encoding":{"x":{"field":"x","type":"quantitative","title":null,"scale":{"domain":[921.3,921.75],"nice":false,"zero":false},"axis":{"values":[921.3,921.4,921.5,921.6,921.7],"format":".2f"}},"y":{"field":"y","type":"quantitative","title":null,"scale":{"domain":[0,0.8],"nice":false},"axis":{"values":[0,0.2,0.4,0.6,0.8],"format":".1f"}}},
   "layer":[{"transform":[{"filter":"datum.s=='h'"}],"mark":{"type":"line","interpolate":"step-after","color":"#000","strokeWidth":0.9}},{"transform":[{"filter":"datum.s=='c'"}],"mark":{"type":"line","interpolate":"monotone","color":"#000","strokeWidth":0.8}},{"transform":[{"filter":"datum.s=='m'"}],"mark":{"type":"line","interpolate":"monotone","color":"#000","strokeWidth":1.6}},{"transform":[{"filter":"datum.s=='i'"}],"mark":{"type":"line","interpolate":"monotone","color":"#444","strokeWidth":0.8,"strokeDash":[3,2]},"encoding":{"detail":{"field":"g"}}},{"transform":[{"filter":"datum.s=='t'"}],"mark":{"type":"rule","color":"#000","strokeWidth":0.8},"encoding":{"y2":{"field":"y2"}}},{"transform":[{"filter":"datum.s=='l' && datum.t=='OI'"}],"mark":{"type":"text","color":"#1e9a1e","fontSize":26,"font":"Liberation Sans","baseline":"middle"},"encoding":{"text":{"field":"t"}}}]},
  {"width":183,"height":117,"data":{"name":"p4"},"encoding":{"x":{"field":"x","type":"quantitative","title":null,"scale":{"domain":[924.39,925.4],"nice":false,"zero":false},"axis":{"values":[924.6,924.8,925.0,925.2,925.4],"format":".1f"}},"y":{"field":"y","type":"quantitative","title":null,"scale":{"domain":[0,0.8],"nice":false},"axis":{"values":[0,0.2,0.4,0.6,0.8],"format":".1f"}}},
   "layer":[{"transform":[{"filter":"datum.s=='h'"}],"mark":{"type":"line","interpolate":"step-after","color":"#000","strokeWidth":0.9}},{"transform":[{"filter":"datum.s=='c'"}],"mark":{"type":"line","interpolate":"monotone","color":"#000","strokeWidth":0.8}},{"transform":[{"filter":"datum.s=='m'"}],"mark":{"type":"line","interpolate":"monotone","color":"#000","strokeWidth":1.6}},{"transform":[{"filter":"datum.s=='i'"}],"mark":{"type":"line","interpolate":"monotone","color":"#444","strokeWidth":0.8,"strokeDash":[3,2]},"encoding":{"detail":{"field":"g"}}},{"transform":[{"filter":"datum.s=='t'"}],"mark":{"type":"rule","color":"#000","strokeWidth":0.8},"encoding":{"y2":{"field":"y2"}}},{"transform":[{"filter":"datum.s=='l' && datum.t=='OI'"}],"mark":{"type":"text","color":"#1e9a1e","fontSize":26,"font":"Liberation Sans","baseline":"middle"},"encoding":{"text":{"field":"t"}}}]},
  {"width":183,"height":117,"data":{"name":"p5"},"encoding":{"x":{"field":"x","type":"quantitative","title":null,"scale":{"domain":[928.81,929.54],"nice":false,"zero":false},"axis":{"values":[928.9,929.0,929.1,929.2,929.3,929.4,929.5],"format":".2f"}},"y":{"field":"y","type":"quantitative","title":null,"scale":{"domain":[0,0.8],"nice":false},"axis":{"values":[0,0.2,0.4,0.6,0.8],"format":".1f"}}},
   "layer":[{"transform":[{"filter":"datum.s=='h'"}],"mark":{"type":"line","interpolate":"step-after","color":"#000","strokeWidth":0.9}},{"transform":[{"filter":"datum.s=='c'"}],"mark":{"type":"line","interpolate":"monotone","color":"#000","strokeWidth":0.8}},{"transform":[{"filter":"datum.s=='m'"}],"mark":{"type":"line","interpolate":"monotone","color":"#000","strokeWidth":1.6}},{"transform":[{"filter":"datum.s=='i'"}],"mark":{"type":"line","interpolate":"monotone","color":"#444","strokeWidth":0.8,"strokeDash":[3,2]},"encoding":{"detail":{"field":"g"}}},{"transform":[{"filter":"datum.s=='t'"}],"mark":{"type":"rule","color":"#000","strokeWidth":0.8},"encoding":{"y2":{"field":"y2"}}},{"transform":[{"filter":"datum.s=='l' && datum.t=='OI'"}],"mark":{"type":"text","color":"#1e9a1e","fontSize":26,"font":"Liberation Sans","baseline":"middle"},"encoding":{"text":{"field":"t"}}}]},
  {"width":183,"height":117,"data":{"name":"p6"},"encoding":{"x":{"field":"x","type":"quantitative","title":null,"scale":{"domain":[929.71,930.24],"nice":false,"zero":false},"axis":{"values":[929.8,929.9,930.0,930.1,930.2],"format":".2f"}},"y":{"field":"y","type":"quantitative","title":null,"scale":{"domain":[0,0.8],"nice":false},"axis":{"values":[0,0.2,0.4,0.6,0.8],"format":".1f"}}},
   "layer":[{"transform":[{"filter":"datum.s=='h'"}],"mark":{"type":"line","interpolate":"step-after","color":"#000","strokeWidth":0.9}},{"transform":[{"filter":"datum.s=='c'"}],"mark":{"type":"line","interpolate":"monotone","color":"#000","strokeWidth":0.8}},{"transform":[{"filter":"datum.s=='m'"}],"mark":{"type":"line","interpolate":"monotone","color":"#000","strokeWidth":1.6}},{"transform":[{"filter":"datum.s=='i'"}],"mark":{"type":"line","interpolate":"monotone","color":"#444","strokeWidth":0.8,"strokeDash":[3,2]},"encoding":{"detail":{"field":"g"}}},{"transform":[{"filter":"datum.s=='t'"}],"mark":{"type":"rule","color":"#000","strokeWidth":0.8},"encoding":{"y2":{"field":"y2"}}},{"transform":[{"filter":"datum.s=='l' && datum.t=='OI'"}],"mark":{"type":"text","color":"#1e9a1e","fontSize":26,"font":"Liberation Sans","baseline":"middle"},"encoding":{"text":{"field":"t"}}},{"transform":[{"filter":"datum.s=='l' && datum.t=='DI'"}],"mark":{"type":"text","color":"#ff0000","fontSize":26,"font":"Liberation Sans","baseline":"middle"},"encoding":{"text":{"field":"t"}}}]},
  {"width":183,"height":117,"data":{"name":"p7"},"encoding":{"x":{"field":"x","type":"quantitative","title":null,"scale":{"domain":[948.72,949.25],"nice":false,"zero":false},"axis":{"values":[948.8,948.9,949.0,949.1,949.2],"format":".2f"}},"y":{"field":"y","type":"quantitative","title":null,"scale":{"domain":[0,0.6],"nice":false},"axis":{"values":[0,0.1,0.2,0.3,0.4,0.5,0.6],"format":".2f"}}},
   "layer":[{"transform":[{"filter":"datum.s=='h'"}],"mark":{"type":"line","interpolate":"step-after","color":"#000","strokeWidth":0.9}},{"transform":[{"filter":"datum.s=='c'"}],"mark":{"type":"line","interpolate":"monotone","color":"#000","strokeWidth":0.8}},{"transform":[{"filter":"datum.s=='m'"}],"mark":{"type":"line","interpolate":"monotone","color":"#000","strokeWidth":1.6}},{"transform":[{"filter":"datum.s=='i'"}],"mark":{"type":"line","interpolate":"monotone","color":"#444","strokeWidth":0.8,"strokeDash":[3,2]},"encoding":{"detail":{"field":"g"}}},{"transform":[{"filter":"datum.s=='t'"}],"mark":{"type":"rule","color":"#000","strokeWidth":0.8},"encoding":{"y2":{"field":"y2"}}},{"transform":[{"filter":"datum.s=='l' && datum.t=='DI'"}],"mark":{"type":"text","color":"#ff0000","fontSize":26,"font":"Liberation Sans","baseline":"middle"},"encoding":{"text":{"field":"t"}}},{"transform":[{"filter":"datum.s=='ly'"}],"mark":{"type":"text","color":"#ff0000","fontSize":30,"font":"Liberation Sans","align":"left","baseline":"alphabetic"},"encoding":{"text":{"field":"t"}}}]},
  {"width":183,"height":117,"data":{"name":"p8"},"encoding":{"x":{"field":"x","type":"quantitative","title":null,"scale":{"domain":[952.52,954.0],"nice":false,"zero":false},"axis":{"values":[952.6,952.8,953.0,953.2,953.4,953.6,953.8,954.0],"format":".1f"}},"y":{"field":"y","type":"quantitative","title":null,"scale":{"domain":[0,1.2],"nice":false},"axis":{"values":[0,0.2,0.4,0.6,0.8,1.0,1.2],"format":".1f"}}},
   "layer":[{"transform":[{"filter":"datum.s=='h'"}],"mark":{"type":"line","interpolate":"step-after","color":"#000","strokeWidth":0.9}},{"transform":[{"filter":"datum.s=='c'"}],"mark":{"type":"line","interpolate":"monotone","color":"#000","strokeWidth":0.8}},{"transform":[{"filter":"datum.s=='m'"}],"mark":{"type":"line","interpolate":"monotone","color":"#000","strokeWidth":1.6}},{"transform":[{"filter":"datum.s=='i'"}],"mark":{"type":"line","interpolate":"monotone","color":"#444","strokeWidth":0.8,"strokeDash":[3,2]},"encoding":{"detail":{"field":"g"}}},{"transform":[{"filter":"datum.s=='t'"}],"mark":{"type":"rule","color":"#000","strokeWidth":0.8},"encoding":{"y2":{"field":"y2"}}},{"transform":[{"filter":"datum.s=='r'"}],"mark":{"type":"text","angle":270,"fontSize":7,"font":"DejaVu Sans","baseline":"middle","align":"center"},"encoding":{"text":{"field":"t"}}}]},
  {"width":183,"height":117,"data":{"name":"p9"},"encoding":{"x":{"field":"x","type":"quantitative","title":null,"scale":{"domain":[964.0,965.0],"nice":false,"zero":false},"axis":{"values":[964.0,964.2,964.4,964.6,964.8,965.0],"format":".1f"}},"y":{"field":"y","type":"quantitative","title":null,"scale":{"domain":[0,1.5],"nice":false},"axis":{"values":[0,0.5,1.0,1.5],"format":".1f"}}},
   "layer":[{"transform":[{"filter":"datum.s=='h'"}],"mark":{"type":"line","interpolate":"step-after","color":"#000","strokeWidth":0.9}},{"transform":[{"filter":"datum.s=='c'"}],"mark":{"type":"line","interpolate":"monotone","color":"#000","strokeWidth":0.8}},{"transform":[{"filter":"datum.s=='m'"}],"mark":{"type":"line","interpolate":"monotone","color":"#000","strokeWidth":1.6}},{"transform":[{"filter":"datum.s=='i'"}],"mark":{"type":"line","interpolate":"monotone","color":"#444","strokeWidth":0.8,"strokeDash":[3,2]},"encoding":{"detail":{"field":"g"}}},{"transform":[{"filter":"datum.s=='t'"}],"mark":{"type":"rule","color":"#000","strokeWidth":0.8},"encoding":{"y2":{"field":"y2"}}},{"transform":[{"filter":"datum.s=='r'"}],"mark":{"type":"text","angle":270,"fontSize":7,"font":"DejaVu Sans","baseline":"middle","align":"center"},"encoding":{"text":{"field":"t"}}}]},
  {"width":183,"height":117,"data":{"name":"p10"},"encoding":{"x":{"field":"x","type":"quantitative","title":null,"scale":{"domain":[971.6,971.98],"nice":false,"zero":false},"axis":{"values":[971.6,971.7,971.8,971.9],"format":".2f"}},"y":{"field":"y","type":"quantitative","title":null,"scale":{"domain":[0,0.8],"nice":false},"axis":{"values":[0,0.2,0.4,0.6,0.8],"format":".1f"}}},
   "layer":[{"transform":[{"filter":"datum.s=='h'"}],"mark":{"type":"line","interpolate":"step-after","color":"#000","strokeWidth":0.9}},{"transform":[{"filter":"datum.s=='c'"}],"mark":{"type":"line","interpolate":"monotone","color":"#000","strokeWidth":0.8}},{"transform":[{"filter":"datum.s=='m'"}],"mark":{"type":"line","interpolate":"monotone","color":"#000","strokeWidth":1.6}},{"transform":[{"filter":"datum.s=='i'"}],"mark":{"type":"line","interpolate":"monotone","color":"#444","strokeWidth":0.8,"strokeDash":[3,2]},"encoding":{"detail":{"field":"g"}}},{"transform":[{"filter":"datum.s=='t'"}],"mark":{"type":"rule","color":"#000","strokeWidth":0.8},"encoding":{"y2":{"field":"y2"}}},{"transform":[{"filter":"datum.s=='l' && datum.t=='OI'"}],"mark":{"type":"text","color":"#1e9a1e","fontSize":26,"font":"Liberation Sans","baseline":"middle"},"encoding":{"text":{"field":"t"}}},{"transform":[{"filter":"datum.s=='l' && datum.t=='DI'"}],"mark":{"type":"text","color":"#ff0000","fontSize":26,"font":"Liberation Sans","baseline":"middle"},"encoding":{"text":{"field":"t"}}},{"transform":[{"filter":"datum.s=='ly'"}],"mark":{"type":"text","color":"#ff0000","fontSize":30,"font":"Liberation Sans","align":"left","baseline":"alphabetic"},"encoding":{"text":{"field":"t"}}}]},
  {"width":183,"height":117,"data":{"name":"p11"},"encoding":{"x":{"field":"x","type":"quantitative","title":null,"scale":{"domain":[1020.0,1020.6],"nice":false,"zero":false},"axis":{"values":[1020.0,1020.1,1020.2,1020.3,1020.4,1020.5],"format":".2f"}},"y":{"field":"y","type":"quantitative","title":null,"scale":{"domain":[0,1],"nice":false},"axis":{"values":[0,0.2,0.4,0.6,0.8,1.0],"format":".1f"}}},
   "layer":[{"transform":[{"filter":"datum.s=='h'"}],"mark":{"type":"line","interpolate":"step-after","color":"#000","strokeWidth":0.9}},{"transform":[{"filter":"datum.s=='c'"}],"mark":{"type":"line","interpolate":"monotone","color":"#000","strokeWidth":0.8}},{"transform":[{"filter":"datum.s=='m'"}],"mark":{"type":"line","interpolate":"monotone","color":"#000","strokeWidth":1.6}},{"transform":[{"filter":"datum.s=='i'"}],"mark":{"type":"line","interpolate":"monotone","color":"#444","strokeWidth":0.8,"strokeDash":[3,2]},"encoding":{"detail":{"field":"g"}}},{"transform":[{"filter":"datum.s=='t'"}],"mark":{"type":"rule","color":"#000","strokeWidth":0.8},"encoding":{"y2":{"field":"y2"}}},{"transform":[{"filter":"datum.s=='r'"}],"mark":{"type":"text","angle":270,"fontSize":7,"font":"DejaVu Sans","baseline":"middle","align":"center"},"encoding":{"text":{"field":"t"}}}]},
  {"width":183,"height":117,"data":{"name":"p12"},"encoding":{"x":{"field":"x","type":"quantitative","title":null,"scale":{"domain":[1024.81,1025.24],"nice":false,"zero":false},"axis":{"values":[1024.9,1025.0,1025.1,1025.2],"format":".2f"}},"y":{"field":"y","type":"quantitative","title":null,"scale":{"domain":[0,0.5],"nice":false},"axis":{"values":[0,0.1,0.2,0.3,0.4,0.5],"format":".2f"}}},
   "layer":[{"transform":[{"filter":"datum.s=='h'"}],"mark":{"type":"line","interpolate":"step-after","color":"#000","strokeWidth":0.9}},{"transform":[{"filter":"datum.s=='c'"}],"mark":{"type":"line","interpolate":"monotone","color":"#000","strokeWidth":0.8}},{"transform":[{"filter":"datum.s=='m'"}],"mark":{"type":"line","interpolate":"monotone","color":"#000","strokeWidth":1.6}},{"transform":[{"filter":"datum.s=='i'"}],"mark":{"type":"line","interpolate":"monotone","color":"#444","strokeWidth":0.8,"strokeDash":[3,2]},"encoding":{"detail":{"field":"g"}}},{"transform":[{"filter":"datum.s=='t'"}],"mark":{"type":"rule","color":"#000","strokeWidth":0.8},"encoding":{"y2":{"field":"y2"}}},{"transform":[{"filter":"datum.s=='l' && datum.t=='DI'"}],"mark":{"type":"text","color":"#ff0000","fontSize":26,"font":"Liberation Sans","baseline":"middle"},"encoding":{"text":{"field":"t"}}},{"transform":[{"filter":"datum.s=='ly'"}],"mark":{"type":"text","color":"#ff0000","fontSize":30,"font":"Liberation Sans","align":"left","baseline":"alphabetic"},"encoding":{"text":{"field":"t"}}}]}
]},
{"title":{"text":"SiC2","anchor":"middle","offset":0},"spacing":40,"bounds":"flush","hconcat":[
  {"width":183,"height":117,"data":{"name":"p13"},"encoding":{"x":{"field":"x","type":"quantitative","title":null,"scale":{"domain":[919.8,920.2],"nice":false,"zero":false},"axis":{"values":[919.8,919.9,920.0,920.1,920.2],"format":".2f"}},"y":{"field":"y","type":"quantitative","title":null,"scale":{"domain":[0,1.2],"nice":false},"axis":{"values":[0,0.2,0.4,0.6,0.8,1.0,1.2],"format":".1f"}}},
   "layer":[{"transform":[{"filter":"datum.s=='h'"}],"mark":{"type":"line","interpolate":"step-after","color":"#000","strokeWidth":0.9}},{"transform":[{"filter":"datum.s=='c'"}],"mark":{"type":"line","interpolate":"monotone","color":"#000","strokeWidth":0.8}},{"transform":[{"filter":"datum.s=='m'"}],"mark":{"type":"line","interpolate":"monotone","color":"#000","strokeWidth":1.6}},{"transform":[{"filter":"datum.s=='i'"}],"mark":{"type":"line","interpolate":"monotone","color":"#444","strokeWidth":0.8,"strokeDash":[3,2]},"encoding":{"detail":{"field":"g"}}},{"transform":[{"filter":"datum.s=='t'"}],"mark":{"type":"rule","color":"#000","strokeWidth":0.8},"encoding":{"y2":{"field":"y2"}}},{"transform":[{"filter":"datum.s=='r'"}],"mark":{"type":"text","angle":270,"fontSize":7,"font":"DejaVu Sans","baseline":"middle","align":"center"},"encoding":{"text":{"field":"t"}}}]},
  {"width":183,"height":117,"data":{"name":"p14"},"encoding":{"x":{"field":"x","type":"quantitative","title":null,"scale":{"domain":[920.0,920.55],"nice":false,"zero":false},"axis":{"values":[920.1,920.2,920.3,920.4,920.5],"format":".2f"}},"y":{"field":"y","type":"quantitative","title":null,"scale":{"domain":[0,1.0],"nice":false},"axis":{"values":[0,0.2,0.4,0.6,0.8,1.0],"format":".1f"}}},
   "layer":[{"transform":[{"filter":"datum.s=='h'"}],"mark":{"type":"line","interpolate":"step-after","color":"#000","strokeWidth":0.9}},{"transform":[{"filter":"datum.s=='c'"}],"mark":{"type":"line","interpolate":"monotone","color":"#000","strokeWidth":0.8}},{"transform":[{"filter":"datum.s=='m'"}],"mark":{"type":"line","interpolate":"monotone","color":"#000","strokeWidth":1.6}},{"transform":[{"filter":"datum.s=='i'"}],"mark":{"type":"line","interpolate":"monotone","color":"#444","strokeWidth":0.8,"strokeDash":[3,2]},"encoding":{"detail":{"field":"g"}}},{"transform":[{"filter":"datum.s=='t'"}],"mark":{"type":"rule","color":"#000","strokeWidth":0.8},"encoding":{"y2":{"field":"y2"}}},{"transform":[{"filter":"datum.s=='r'"}],"mark":{"type":"text","angle":270,"fontSize":7,"font":"DejaVu Sans","baseline":"middle","align":"center"},"encoding":{"text":{"field":"t"}}}]},
  {"width":183,"height":117,"data":{"name":"p15"},"encoding":{"x":{"field":"x","type":"quantitative","title":null,"scale":{"domain":[936.5,937.4],"nice":false,"zero":false},"axis":{"values":[936.6,936.8,937.0,937.2],"format":".1f"}},"y":{"field":"y","type":"quantitative","title":null,"scale":{"domain":[0,1.0],"nice":false},"axis":{"values":[0,0.2,0.4,0.6,0.8,1.0],"format":".1f"}}},
   "layer":[{"transform":[{"filter":"datum.s=='h'"}],"mark":{"type":"line","interpolate":"step-after","color":"#000","strokeWidth":0.9}},{"transform":[{"filter":"datum.s=='c'"}],"mark":{"type":"line","interpolate":"monotone","color":"#000","strokeWidth":0.8}},{"transform":[{"filter":"datum.s=='m'"}],"mark":{"type":"line","interpolate":"monotone","color":"#000","strokeWidth":1.6}},{"transform":[{"filter":"datum.s=='i'"}],"mark":{"type":"line","interpolate":"monotone","color":"#444","strokeWidth":0.8,"strokeDash":[3,2]},"encoding":{"detail":{"field":"g"}}},{"transform":[{"filter":"datum.s=='t'"}],"mark":{"type":"rule","color":"#000","strokeWidth":0.8},"encoding":{"y2":{"field":"y2"}}},{"transform":[{"filter":"datum.s=='r'"}],"mark":{"type":"text","angle":270,"fontSize":7,"font":"DejaVu Sans","baseline":"middle","align":"center"},"encoding":{"text":{"field":"t"}}}]},
  {"width":183,"height":117,"data":{"name":"p16"},"encoding":{"x":{"field":"x","type":"quantitative","title":null,"scale":{"domain":[948.8,949.2],"nice":false,"zero":false},"axis":{"values":[948.9,949.0,949.1,949.2],"format":".2f"}},"y":{"field":"y","type":"quantitative","title":null,"scale":{"domain":[0,1.0],"nice":false},"axis":{"values":[0,0.2,0.4,0.6,0.8,1.0],"format":".1f"}}},
   "layer":[{"transform":[{"filter":"datum.s=='h'"}],"mark":{"type":"line","interpolate":"step-after","color":"#000","strokeWidth":0.9}},{"transform":[{"filter":"datum.s=='c'"}],"mark":{"type":"line","interpolate":"monotone","color":"#000","strokeWidth":0.8}},{"transform":[{"filter":"datum.s=='m'"}],"mark":{"type":"line","interpolate":"monotone","color":"#000","strokeWidth":1.6}},{"transform":[{"filter":"datum.s=='t'"}],"mark":{"type":"rule","color":"#000","strokeWidth":0.8},"encoding":{"y2":{"field":"y2"}}},{"transform":[{"filter":"datum.s=='r'"}],"mark":{"type":"text","angle":270,"fontSize":7,"font":"DejaVu Sans","baseline":"middle","align":"center"},"encoding":{"text":{"field":"t"}}},{"transform":[{"filter":"datum.s=='ly'"}],"mark":{"type":"text","color":"#ff0000","fontSize":30,"font":"Liberation Sans","align":"left","baseline":"alphabetic"},"encoding":{"text":{"field":"t"}}}]}
]}
],"spacing":29
}
